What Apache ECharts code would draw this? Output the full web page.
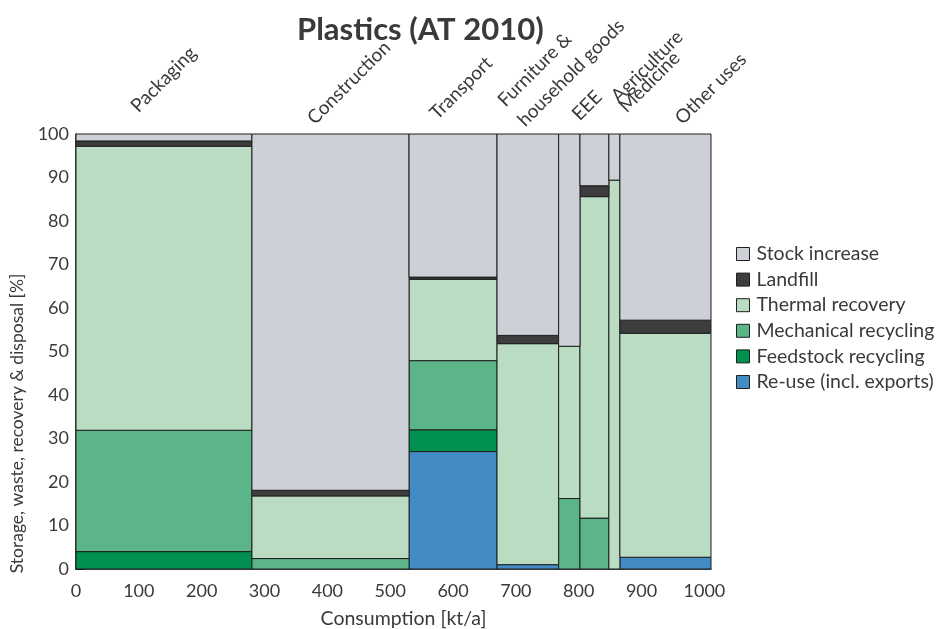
<!DOCTYPE html>
<html>
<head>
<meta charset="utf-8">
<title>Plastics (AT 2010)</title>
<script src="https://cdn.jsdelivr.net/npm/echarts@6/dist/echarts.min.js"></script>
<style>
  html, body { margin: 0; padding: 0; background: #fff; }
  #chart { width: 942px; height: 629px; }
</style>
</head>
<body>
<div id="chart"></div>
<script>
// Sectors of plastics use and their annual consumption (kt/a) -> bar widths
const sectors = ['Packaging', 'Construction', 'Transport', 'Furniture &\nhousehold goods',
                 'EEE', 'Agriculture', 'Medicine', 'Other uses'];
const consumption = [280, 250, 140, 98, 34, 46, 17.5, 145];

// Share of each sector's flow by destination (%), stacked bottom to top
const reuse      = [0,    0,    27.0, 1.0,  0,    0,    0,    2.7];
const feedstock  = [4.0,  0,    5.0,  0,    0,    0,    0,    0];
const mechanical = [27.9, 2.4,  15.9, 0,    16.2, 11.7, 0,    0];
const thermal    = [65.3, 14.4, 18.7, 50.8, 35.0, 73.9, 89.4, 51.5];
const landfill   = [1.2,  1.3,  0.5,  1.9,  0,    2.5,  0,    3.0];
const stock      = [1.6,  81.9, 32.9, 46.3, 48.8, 11.9, 10.6, 42.8];

const xTicks = [0, 100, 200, 300, 400, 500, 600, 700, 800, 900, 1000];
const yTicks = [0, 10, 20, 30, 40, 50, 60, 70, 80, 90, 100];

// Pixel nudges for the slanted sector captions (relative to the column centre, top of plot)
const captionNudge = [[-20, -15], [-10, -3], [-10, -8], [3, -1],
                      [16, -7], [30, -25], [18, -15], [23, -3]];

const FONT = 'Lato, "Open Sans", sans-serif';
const TEXT = '#3a3a3a';

const flows = [
  { name: 'Re-use (incl. exports)', values: reuse,      color: '#428bc5' },
  { name: 'Feedstock recycling',    values: feedstock,  color: '#00904f' },
  { name: 'Mechanical recycling',   values: mechanical, color: '#5cb589' },
  { name: 'Thermal recovery',       values: thermal,    color: '#badcc3' },
  { name: 'Landfill',               values: landfill,   color: '#3d3d3d' },
  { name: 'Stock increase',         values: stock,      color: '#cdd0d6' }
];

// Column extents along the consumption axis
const x0 = [], x1 = [];
let acc = 0;
consumption.forEach(w => { x0.push(acc); acc += w; x1.push(acc); });
const total = acc;

// Running stack base per sector
const base = sectors.map(() => 0);

function rectRenderer(color) {
  return function (params, api) {
    const lo = api.value(2), hi = api.value(3);
    if (hi - lo <= 0) return null;
    const p1 = api.coord([api.value(0), hi]);
    const p2 = api.coord([api.value(1), lo]);
    return {
      type: 'rect',
      shape: { x: p1[0], y: p1[1], width: p2[0] - p1[0], height: p2[1] - p1[1] },
      style: { fill: color, stroke: '#1e1e1e', lineWidth: 1 }
    };
  };
}

const series = flows.map(f => {
  const data = sectors.map((s, i) => {
    const lo = base[i];
    const hi = lo + f.values[i];
    base[i] = hi;
    return [x0[i], x1[i], lo, hi];
  });
  return {
    type: 'custom',
    name: f.name,
    itemStyle: { color: f.color, borderColor: '#1e1e1e', borderWidth: 1 },
    encode: { x: [0, 1], y: [2, 3] },
    renderItem: rectRenderer(f.color),
    data: data,
    silent: true
  };
});

// Slanted sector captions above the columns
series.push({
  type: 'custom',
  name: 'captions',
  encode: { x: 0, y: 1 },
  clip: false,
  silent: true,
  renderItem: function (params, api) {
    const i = params.dataIndex;
    const c = api.coord([api.value(0), 100]);
    return {
      type: 'text',
      x: c[0] + captionNudge[i][0],
      y: c[1] + captionNudge[i][1],
      rotation: Math.PI / 4,
      style: {
        text: sectors[i],
        fill: TEXT,
        fontSize: 19,
        fontFamily: FONT,
        lineHeight: 28,
        align: 'left',
        verticalAlign: 'bottom'
      }
    };
  },
  data: sectors.map((s, i) => [(x0[i] + x1[i]) / 2, 100])
});

const chart = echarts.init(document.getElementById('chart'), null, { renderer: 'canvas' });
chart.setOption({
  animation: false,
  backgroundColor: '#fff',
  textStyle: { fontFamily: FONT, color: TEXT },
  title: {
    text: 'Plastics (AT 2010)',
    left: 292, top: 9,
    textStyle: { fontSize: 31, fontWeight: 'bold', color: TEXT, fontFamily: FONT }
  },
  legend: {
    orient: 'vertical',
    left: 731, top: 239,
    itemWidth: 13, itemHeight: 13,
    itemGap: 5.6,
    icon: 'rect',
    selectedMode: false,
    data: ['Stock increase', 'Landfill', 'Thermal recovery',
           'Mechanical recycling', 'Feedstock recycling', 'Re-use (incl. exports)'],
    itemStyle: { borderColor: '#1e1e1e', borderWidth: 1 },
    textStyle: { fontSize: 19.5, color: TEXT, fontFamily: FONT, lineHeight: 20, padding: [0, 0, 0, 2] }
  },
  grid: { left: 76, right: 231, top: 134, bottom: 60, containLabel: false, outerBoundsMode: 'none' },
  xAxis: {
    type: 'value',
    min: 0, max: total, interval: 100,
    name: 'Consumption [kt/a]',
    nameLocation: 'middle',
    nameGap: 40,
    nameTextStyle: { fontSize: 19.5, color: TEXT, fontFamily: FONT, padding: [0, 0, 0, 20] },
    axisLine: { lineStyle: { color: '#111', width: 1.5 } },
    axisTick: { inside: true, length: 8, lineStyle: { color: '#111' } },
    axisLabel: {
      fontSize: 18, color: TEXT, fontFamily: FONT, margin: 13,
      showMaxLabel: false,
      formatter: v => (xTicks.indexOf(v) >= 0 ? String(v) : '')
    },
    splitLine: { show: false }
  },
  yAxis: {
    type: 'value',
    min: 0, max: 100, interval: 10,
    name: 'Storage, waste, recovery & disposal [%]',
    nameLocation: 'middle',
    nameGap: 46,
    nameTextStyle: { fontSize: 17.5, color: TEXT, fontFamily: FONT, padding: [0, 144, 0, 0] },
    axisLine: { show: true, lineStyle: { color: '#111', width: 1.5 } },
    axisTick: { show: true, inside: true, length: 8, lineStyle: { color: '#111' } },
    axisLabel: {
      fontSize: 18, color: TEXT, fontFamily: FONT, margin: 7,
      formatter: v => (yTicks.indexOf(v) >= 0 ? String(v) : '')
    },
    splitLine: { show: false }
  },
  series: series
});
</script>
</body>
</html>
